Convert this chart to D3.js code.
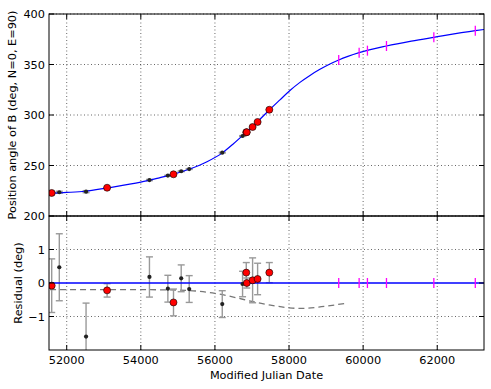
<!DOCTYPE html>
<html>
<head>
<meta charset="utf-8">
<script src="https://cdn.jsdelivr.net/npm/d3@7"></script>
<style>
  body { margin: 0; background: #fff; }
  text { font-family: 'DejaVu Sans', sans-serif; font-size: 11.3px; fill: #000; }
</style>
</head>
<body>
<svg id="chart" width="491" height="389"></svg>
<script>
// measured orbit points (red), other epochs (black), predicted epochs (magenta)
const redMJD = [51595, 53090, 54882, 56846, 56860, 57017, 57152, 57468]
const redPA = [222.8, 228.0, 241.3, 282.9, 283.0, 288.1, 293.1, 305.2]
const redRes = [-0.08, -0.22, -0.58, 0.31, 0.0, 0.08, 0.12, 0.31]
const redErr = [0.8, 0.2, 0.4, 0.3, 0.15, 0.67, 0.47, 0.3]

const blackMJD = [51800, 52522, 54233, 54730, 55090, 55306, 56198, 56746]
const blackPA = [223.5, 224.1, 235.6, 240.0, 244.3, 246.5, 262.7, 279.2]
const blackRes = [0.47, -1.6, 0.18, -0.17, 0.14, -0.18, -0.63, -0.03]
const blackErr = [1.0, 1.0, 0.6, 0.4, 0.4, 0.4, 0.4, 0.38]

const predMJD = [59341, 59892, 60116, 60630, 61908, 63027]
const predPA = [354.5, 361.7, 363.7, 368.3, 376.9, 383.5]

// model curve
const orbitMJD = [51400, 51522, 52000, 52500, 53090, 54000, 54500, 54882, 55300, 55800, 56200, 56500, 56846, 57152, 57468, 57755, 58025, 58295, 58565, 58834, 59104, 59341, 59892, 60630, 61300, 61908, 63027, 63400]
const orbitPA = [222.2, 222.5, 223.3, 224.5, 227.8, 233.5, 237.8, 241.3, 246.3, 254.0, 262.5, 271.5, 283.0, 293.5, 305.0, 315.0, 324.3, 332.3, 339.2, 345.2, 350.5, 354.5, 361.7, 368.3, 373.1, 376.9, 383.5, 385.3]

// dashed residual trend
const trendMJD = [51550, 54000, 55000, 55500, 56000, 56500, 57000, 57500, 58000, 58300, 58800, 59500]
const trendRes = [-0.2, -0.2, -0.21, -0.24, -0.31, -0.42, -0.55, -0.66, -0.74, -0.76, -0.72, -0.61]

const xTicks = [52000, 54000, 56000, 58000, 60000, 62000]
const paTicks = [200, 250, 300, 350, 400]
const resTicks = [-1, 0, 1]

const svg = d3.select('#chart')
const left = 49
const right = 484
const top1 = 14
const mid = 216
const bottom = 350
const tick = 5

const x = d3.scaleLinear().domain([51522, 63262]).range([left, right])
const yPA = d3.scaleLinear().domain([200, 400]).range([mid, top1])
const yRes = d3.scaleLinear().domain([-2, 2]).range([bottom, mid])

const red = redMJD.map((m, i) => ({ m, pa: redPA[i], r: redRes[i], e: redErr[i] }))
const black = blackMJD.map((m, i) => ({ m, pa: blackPA[i], r: blackRes[i], e: blackErr[i] }))
const pred = predMJD.map((m, i) => ({ m, pa: predPA[i] }))

function panel(y, yTicks, y0, y1, id) {
  const g = svg.append('g')
  svg.append('clipPath').attr('id', id)
    .append('rect').attr('x', left).attr('y', y1).attr('width', right - left).attr('height', y0 - y1)

  // dotted grid
  g.selectAll('line.gx').data(xTicks).join('line')
    .attr('x1', (d) => x(d)).attr('x2', (d) => x(d))
    .attr('y1', y0).attr('y2', y1)
    .attr('stroke', '#000').attr('stroke-width', 0.6).attr('stroke-dasharray', '1,2.5')
  g.selectAll('line.gy').data(yTicks).join('line')
    .attr('x1', left).attr('x2', right)
    .attr('y1', (d) => y(d)).attr('y2', (d) => y(d))
    .attr('stroke', '#000').attr('stroke-width', 0.6).attr('stroke-dasharray', '1,2.5')

  const plot = svg.append('g').attr('clip-path', 'url(#' + id + ')')
  return plot
}

function frame(y, yTicks, y0, y1) {
  const g = svg.append('g')
  g.append('rect')
    .attr('x', left).attr('y', y1).attr('width', right - left).attr('height', y0 - y1)
    .attr('fill', 'none').attr('stroke', '#000').attr('stroke-width', 1)
  // inward ticks on all four sides
  xTicks.forEach(function (t) {
    g.append('line').attr('x1', x(t)).attr('x2', x(t)).attr('y1', y0).attr('y2', y0 - tick).attr('stroke', '#000')
    g.append('line').attr('x1', x(t)).attr('x2', x(t)).attr('y1', y1).attr('y2', y1 + tick).attr('stroke', '#000')
  })
  yTicks.forEach(function (t) {
    g.append('line').attr('x1', left).attr('x2', left + tick).attr('y1', y(t)).attr('y2', y(t)).attr('stroke', '#000')
    g.append('line').attr('x1', right).attr('x2', right - tick).attr('y1', y(t)).attr('y2', y(t)).attr('stroke', '#000')
  })
  g.selectAll('text.yl').data(yTicks).join('text')
    .attr('x', left - 4).attr('y', (d) => y(d))
    .attr('dy', '0.36em')
    .attr('text-anchor', 'end')
    .text((d) => d3.format('')(d).replace('-', '\u2212'))
}

function errorbars(plot, data, y, key) {
  const eb = plot.append('g').attr('stroke', '#999').attr('stroke-width', 1.4)
  data.forEach(function (d) {
    const ya = y(d[key] + d.e)
    const yb = y(d[key] - d.e)
    eb.append('line').attr('x1', x(d.m)).attr('x2', x(d.m)).attr('y1', ya).attr('y2', yb)
    eb.append('line').attr('x1', x(d.m) - 3.5).attr('x2', x(d.m) + 3.5).attr('y1', ya).attr('y2', ya)
    eb.append('line').attr('x1', x(d.m) - 3.5).attr('x2', x(d.m) + 3.5).attr('y1', yb).attr('y2', yb)
  })
}

function predTicks(plot, y, key) {
  plot.selectAll('line.pred').data(pred).join('line')
    .attr('x1', (d) => x(d.m)).attr('x2', (d) => x(d.m))
    .attr('y1', (d) => y(key ? d[key] : 0) - 5).attr('y2', (d) => y(key ? d[key] : 0) + 5)
    .attr('stroke', '#ff00ff').attr('stroke-width', 1.3)
}

function markers(plot, y, key) {
  plot.selectAll('circle.blk').data(black).join('circle')
    .attr('cx', (d) => x(d.m)).attr('cy', (d) => y(d[key]))
    .attr('r', 2.1).attr('fill', '#222')
  plot.selectAll('circle.red').data(red).join('circle')
    .attr('cx', (d) => x(d.m)).attr('cy', (d) => y(d[key]))
    .attr('r', 3.5).attr('fill', '#ff0000').attr('stroke', '#000').attr('stroke-width', 0.6)
}

// top panel: position angle
const p1 = panel(yPA, paTicks, mid, top1, 'clip-top')
errorbars(p1, black.concat(red), yPA, 'pa')
p1.append('path')
  .datum(orbitMJD.map((m, i) => [m, orbitPA[i]]))
  .attr('d', d3.line().x((d) => x(d[0])).y((d) => yPA(d[1])).curve(d3.curveMonotoneX))
  .attr('fill', 'none').attr('stroke', '#0000ff').attr('stroke-width', 1.2)
predTicks(p1, yPA, 'pa')
markers(p1, yPA, 'pa')

// bottom panel: residuals
const p2 = panel(yRes, resTicks.filter((d) => d !== 0), bottom, mid, 'clip-bot')
p2.append('path')
  .datum(trendMJD.map((m, i) => [m, trendRes[i]]))
  .attr('d', d3.line().x((d) => x(d[0])).y((d) => yRes(d[1])).curve(d3.curveMonotoneX))
  .attr('fill', 'none').attr('stroke', '#777').attr('stroke-width', 1.3).attr('stroke-dasharray', '6,4')
errorbars(p2, black.concat(red), yRes, 'r')
p2.append('line')
  .attr('x1', left).attr('x2', right).attr('y1', yRes(0)).attr('y2', yRes(0))
  .attr('stroke', '#0000ff').attr('stroke-width', 1.3)
predTicks(p2, yRes, null)
markers(p2, yRes, 'r')

frame(yPA, paTicks, mid, top1)
frame(yRes, resTicks, bottom, mid)

// x tick labels on the lower panel only
svg.selectAll('text.xl').data(xTicks).join('text')
  .attr('x', (d) => x(d)).attr('y', bottom + 14)
  .attr('text-anchor', 'middle')
  .text((d) => d)

svg.append('text')
  .attr('x', (left + right) / 2).attr('y', 379)
  .attr('text-anchor', 'middle')
  .text('Modified Julian Date')

svg.append('text')
  .attr('transform', 'translate(16,' + (top1 + mid) / 2 + ') rotate(-90)')
  .attr('text-anchor', 'middle')
  .text('Position angle of B (deg, N=0, E=90)')

svg.append('text')
  .attr('transform', 'translate(22,' + (mid + bottom) / 2 + ') rotate(-90)')
  .attr('text-anchor', 'middle')
  .text('Residual (deg)')
</script>
</body>
</html>
